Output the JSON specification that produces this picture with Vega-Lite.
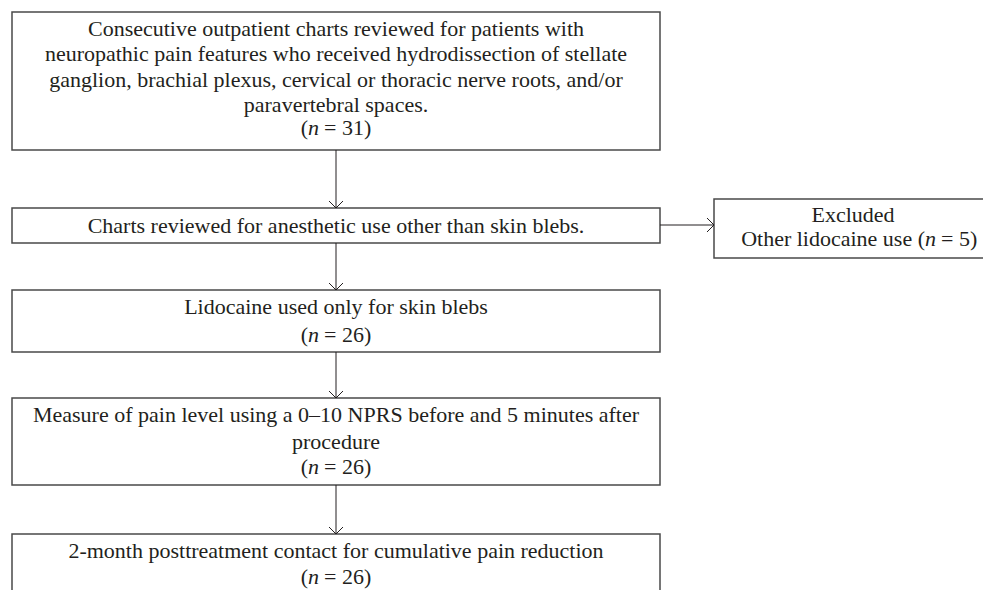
{
  "$schema": "https://vega.github.io/schema/vega-lite/v6.json",
  "width": 983,
  "height": 590,
  "padding": 0,
  "autosize": {"type": "fit", "contains": "padding"},
  "background": "white",
  "config": {"view": {"stroke": null}},
  "datasets": {
    "boxes": [
      {"id": "b1", "x": 12, "x2": 660, "y": 12, "y2": 150},
      {"id": "b2", "x": 12, "x2": 660, "y": 208, "y2": 243},
      {"id": "ex", "x": 714, "x2": 992, "y": 199, "y2": 258},
      {"id": "b3", "x": 12, "x2": 660, "y": 290, "y2": 352},
      {"id": "b4", "x": 12, "x2": 660, "y": 398, "y2": 485},
      {"id": "b5", "x": 12, "x2": 660, "y": 534, "y2": 600}
    ],
    "arrows": [
      {"x": 336, "x2": 336, "y": 150, "y2": 208},
      {"x": 336, "x2": 336, "y": 243, "y2": 290},
      {"x": 336, "x2": 336, "y": 352, "y2": 398},
      {"x": 336, "x2": 336, "y": 485, "y2": 534},
      {"x": 660, "x2": 714, "y": 225, "y2": 225}
    ],
    "downHeads": [
      {"x": 336, "y": 208},
      {"x": 336, "y": 290},
      {"x": 336, "y": 398},
      {"x": 336, "y": 534}
    ],
    "rightHeads": [
      {"x": 714, "y": 225}
    ],
    "lines": [
      {"part": "plain", "x": 336, "y": 29, "text": "Consecutive outpatient charts reviewed for patients with"},
      {"part": "plain", "x": 336, "y": 54, "text": "neuropathic pain features who received hydrodissection of stellate"},
      {"part": "plain", "x": 336, "y": 80, "text": "ganglion, brachial plexus, cervical or thoracic nerve roots, and/or"},
      {"part": "plain", "x": 336, "y": 105, "text": "paravertebral spaces."},
      {"part": "pre", "x": 308, "y": 128, "text": "("},
      {"part": "ital", "x": 313.5, "y": 128, "text": "n"},
      {"part": "post", "x": 324, "y": 128, "text": "= 31)"},
      {"part": "plain", "x": 336, "y": 225.5, "text": "Charts reviewed for anesthetic use other than skin blebs."},
      {"part": "plain", "x": 853, "y": 215, "text": "Excluded"},
      {"part": "pre", "x": 925, "y": 239, "text": "Other lidocaine use ("},
      {"part": "ital", "x": 930.5, "y": 239, "text": "n"},
      {"part": "post", "x": 941, "y": 239, "text": "= 5)"},
      {"part": "plain", "x": 336, "y": 307, "text": "Lidocaine used only for skin blebs"},
      {"part": "pre", "x": 308, "y": 335, "text": "("},
      {"part": "ital", "x": 313.5, "y": 335, "text": "n"},
      {"part": "post", "x": 324, "y": 335, "text": "= 26)"},
      {"part": "plain", "x": 336, "y": 415, "text": "Measure of pain level using a 0–10 NPRS before and 5 minutes after"},
      {"part": "plain", "x": 336, "y": 442, "text": "procedure"},
      {"part": "pre", "x": 308, "y": 467, "text": "("},
      {"part": "ital", "x": 313.5, "y": 467, "text": "n"},
      {"part": "post", "x": 324, "y": 467, "text": "= 26)"},
      {"part": "plain", "x": 336, "y": 551, "text": "2-month posttreatment contact for cumulative pain reduction"},
      {"part": "pre", "x": 308, "y": 577, "text": "("},
      {"part": "ital", "x": 313.5, "y": 577, "text": "n"},
      {"part": "post", "x": 324, "y": 577, "text": "= 26)"}
    ]
  },
  "layer": [
    {
      "data": {"name": "boxes"},
      "mark": {"type": "rect", "fill": "white", "stroke": "#4a4a4a", "strokeWidth": 1.5, "clip": true},
      "encoding": {
        "x": {"field": "x", "type": "quantitative", "scale": {"domain": [0, 983], "nice": false, "zero": false}, "axis": null},
        "x2": {"field": "x2"},
        "y": {"field": "y", "type": "quantitative", "scale": {"domain": [0, 590], "nice": false, "zero": false, "reverse": true}, "axis": null},
        "y2": {"field": "y2"}
      }
    },
    {
      "data": {"name": "arrows"},
      "mark": {"type": "rule", "stroke": "#231f20", "strokeWidth": 1},
      "encoding": {
        "x": {"field": "x", "type": "quantitative"},
        "x2": {"field": "x2"},
        "y": {"field": "y", "type": "quantitative"},
        "y2": {"field": "y2"}
      }
    },
    {
      "data": {"name": "downHeads"},
      "mark": {"type": "point", "shape": "M-1,-1L0,0L1,-1", "filled": false, "size": 196, "stroke": "#231f20", "strokeWidth": 1, "opacity": 1},
      "encoding": {
        "x": {"field": "x", "type": "quantitative"},
        "y": {"field": "y", "type": "quantitative"}
      }
    },
    {
      "data": {"name": "rightHeads"},
      "mark": {"type": "point", "shape": "M-1,-1L0,0L-1,1", "filled": false, "size": 196, "stroke": "#231f20", "strokeWidth": 1, "opacity": 1},
      "encoding": {
        "x": {"field": "x", "type": "quantitative"},
        "y": {"field": "y", "type": "quantitative"}
      }
    },
    {
      "data": {"name": "lines"},
      "transform": [{"filter": "datum.part === 'plain'"}],
      "mark": {"type": "text", "font": "Liberation Serif", "fontSize": 22, "align": "center", "baseline": "middle", "fill": "#231f20"},
      "encoding": {
        "x": {"field": "x", "type": "quantitative"},
        "y": {"field": "y", "type": "quantitative"},
        "text": {"field": "text"}
      }
    },
    {
      "data": {"name": "lines"},
      "transform": [{"filter": "datum.part === 'pre'"}],
      "mark": {"type": "text", "font": "Liberation Serif", "fontSize": 22, "align": "right", "baseline": "middle", "fill": "#231f20"},
      "encoding": {
        "x": {"field": "x", "type": "quantitative"},
        "y": {"field": "y", "type": "quantitative"},
        "text": {"field": "text"}
      }
    },
    {
      "data": {"name": "lines"},
      "transform": [{"filter": "datum.part === 'ital'"}],
      "mark": {"type": "text", "font": "Liberation Serif", "fontSize": 22, "fontStyle": "italic", "align": "center", "baseline": "middle", "fill": "#231f20"},
      "encoding": {
        "x": {"field": "x", "type": "quantitative"},
        "y": {"field": "y", "type": "quantitative"},
        "text": {"field": "text"}
      }
    },
    {
      "data": {"name": "lines"},
      "transform": [{"filter": "datum.part === 'post'"}],
      "mark": {"type": "text", "font": "Liberation Serif", "fontSize": 22, "align": "left", "baseline": "middle", "fill": "#231f20"},
      "encoding": {
        "x": {"field": "x", "type": "quantitative"},
        "y": {"field": "y", "type": "quantitative"},
        "text": {"field": "text"}
      }
    }
  ]
}
